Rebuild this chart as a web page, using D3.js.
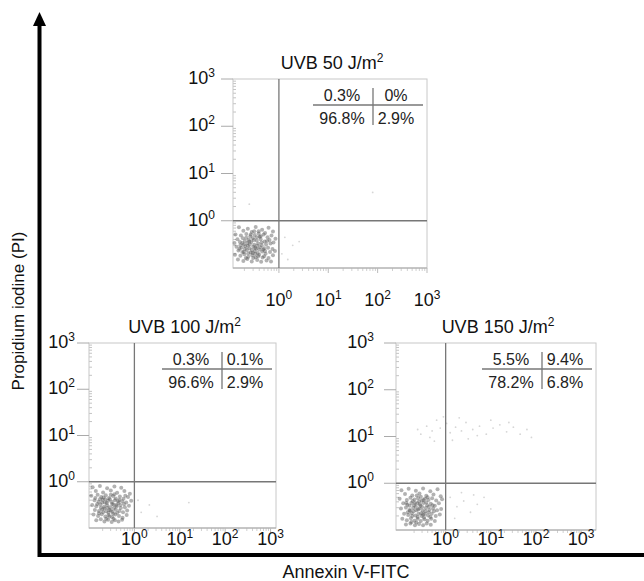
<!DOCTYPE html>
<html>
<head>
<meta charset="utf-8">
<script src="https://cdn.jsdelivr.net/npm/d3@7"></script>
<style>
  body { margin: 0; background: #fff; }
  svg { display: block; font-family: "Liberation Sans", Arial, Helvetica, sans-serif; }
</style>
</head>
<body>
<svg id="chart" width="644" height="581"></svg>
<script>
// doses and quadrant percentages (UL, UR, LL, LR)
const doses = ["50", "100", "150"]
const upperLeft = ["0.3%", "0.3%", "5.5%"]
const upperRight = ["0%", "0.1%", "9.4%"]
const lowerLeft = ["96.8%", "96.6%", "78.2%"]
const lowerRight = ["2.9%", "2.9%", "6.8%"]
const tickExps = [0, 1, 2, 3]
const yExtentExp = [-1, 3]

// events as [log10 Annexin, log10 PI]
const events50 = [
  [-0.81,-0.14],[-0.63,-0.17],[-0.47,-0.13],[-0.34,-0.19],[-0.21,-0.15],[-0.72,-0.21],[-0.55,-0.24],[-0.41,-0.22],[-0.28,-0.26],[-0.12,-0.23],
  [-0.88,-0.29],[-0.77,-0.31],[-0.66,-0.28],[-0.58,-0.33],[-0.49,-0.3],[-0.39,-0.34],[-0.31,-0.29],[-0.23,-0.35],[-0.15,-0.31],[-0.07,-0.38],
  [-0.84,-0.39],[-0.73,-0.37],[-0.69,-0.43],[-0.61,-0.4],[-0.53,-0.37],[-0.45,-0.42],[-0.37,-0.39],[-0.29,-0.44],[-0.19,-0.41],[-0.11,-0.46],
  [-0.9,-0.47],[-0.79,-0.45],[-0.71,-0.5],[-0.64,-0.47],[-0.56,-0.45],[-0.5,-0.51],[-0.42,-0.48],[-0.35,-0.46],[-0.26,-0.5],[-0.17,-0.48],
  [-0.86,-0.55],[-0.76,-0.57],[-0.68,-0.54],[-0.6,-0.58],[-0.52,-0.55],[-0.46,-0.59],[-0.38,-0.56],[-0.32,-0.61],[-0.22,-0.57],[-0.13,-0.6],
  [-0.82,-0.63],[-0.74,-0.66],[-0.65,-0.62],[-0.57,-0.67],[-0.49,-0.64],[-0.43,-0.68],[-0.34,-0.65],[-0.27,-0.7],[-0.18,-0.66],[-0.08,-0.64],
  [-0.89,-0.72],[-0.78,-0.74],[-0.7,-0.71],[-0.62,-0.76],[-0.54,-0.73],[-0.47,-0.77],[-0.4,-0.72],[-0.3,-0.75],[-0.21,-0.79],[-0.12,-0.73],
  [-0.83,-0.82],[-0.72,-0.85],[-0.64,-0.81],[-0.55,-0.86],[-0.44,-0.83],[-0.36,-0.87],[-0.25,-0.84],[-0.16,-0.86],
  [-0.66,-0.36],[-0.59,-0.5],[-0.51,-0.41],[-0.44,-0.53],[-0.55,-0.62],[-0.4,-0.61],[-0.62,-0.69],[-0.48,-0.7],[-0.69,-0.6],[-0.35,-0.52],
  [-0.57,-0.29],[-0.45,-0.35],[-0.74,-0.47],[-0.3,-0.58],[-0.52,-0.79],[-0.67,-0.79],[-0.8,-0.59],[-0.24,-0.43],[-0.41,-0.27],[-0.33,-0.78],
  [-0.6,-0.44],[-0.48,-0.57],[-0.71,-0.66],[-0.37,-0.33],[-0.53,-0.68],[-0.63,-0.53],[-0.42,-0.75],[-0.78,-0.52],[-0.28,-0.64],[-0.5,-0.22]
]
const events100 = [
  [-0.92,-0.12],[-0.76,-0.09],[-0.6,-0.14],[-0.44,-0.1],[-0.29,-0.13],[-0.85,-0.2],[-0.69,-0.23],[-0.52,-0.19],[-0.38,-0.24],[-0.22,-0.2],[-0.1,-0.26],
  [-0.95,-0.3],[-0.81,-0.28],[-0.73,-0.33],[-0.63,-0.29],[-0.56,-0.35],[-0.47,-0.31],[-0.41,-0.36],[-0.32,-0.32],[-0.24,-0.37],[-0.14,-0.33],
  [-0.88,-0.4],[-0.79,-0.43],[-0.7,-0.39],[-0.65,-0.45],[-0.58,-0.41],[-0.5,-0.44],[-0.43,-0.4],[-0.35,-0.46],[-0.27,-0.42],[-0.18,-0.45],[-0.07,-0.41],
  [-0.93,-0.5],[-0.84,-0.53],[-0.75,-0.49],[-0.67,-0.54],[-0.6,-0.51],[-0.53,-0.55],[-0.46,-0.49],[-0.39,-0.53],[-0.31,-0.5],[-0.21,-0.55],[-0.12,-0.52],
  [-0.87,-0.61],[-0.78,-0.63],[-0.71,-0.6],[-0.62,-0.64],[-0.55,-0.61],[-0.48,-0.65],[-0.41,-0.6],[-0.33,-0.63],[-0.25,-0.66],[-0.16,-0.62],
  [-0.9,-0.71],[-0.8,-0.74],[-0.72,-0.7],[-0.64,-0.75],[-0.57,-0.72],[-0.49,-0.76],[-0.42,-0.71],[-0.34,-0.74],[-0.26,-0.78],[-0.17,-0.72],
  [-0.84,-0.83],[-0.74,-0.81],[-0.66,-0.86],[-0.58,-0.82],[-0.5,-0.87],[-0.43,-0.83],[-0.35,-0.86],[-0.27,-0.82],
  [-0.68,-0.34],[-0.61,-0.46],[-0.54,-0.38],[-0.45,-0.57],[-0.57,-0.67],[-0.66,-0.58],[-0.49,-0.48],[-0.38,-0.67],[-0.74,-0.56],[-0.62,-0.8],
  [-0.44,-0.27],[-0.3,-0.57],[-0.76,-0.38],[-0.52,-0.28],[-0.36,-0.42],[-0.69,-0.66],[-0.55,-0.75],[-0.82,-0.48],[-0.23,-0.48],[-0.47,-0.69],
  [-0.59,-0.57],[-0.71,-0.45],[-0.4,-0.5],[-0.64,-0.38],[-0.52,-0.62],[-0.78,-0.68],[-0.33,-0.39],[-0.46,-0.8],[-0.86,-0.35],[-0.2,-0.3]
]
const events150 = [
  [-0.98,-0.15],[-0.82,-0.12],[-0.66,-0.16],[-0.5,-0.11],[-0.34,-0.17],[-0.18,-0.13],[-0.9,-0.23],[-0.74,-0.26],[-0.58,-0.22],[-0.43,-0.27],[-0.27,-0.24],[-0.11,-0.28],
  [-1.02,-0.33],[-0.86,-0.36],[-0.78,-0.31],[-0.69,-0.35],[-0.61,-0.32],[-0.53,-0.37],[-0.46,-0.33],[-0.38,-0.36],[-0.3,-0.32],[-0.21,-0.37],[-0.08,-0.34],
  [-0.94,-0.43],[-0.85,-0.46],[-0.76,-0.42],[-0.7,-0.47],[-0.63,-0.43],[-0.56,-0.48],[-0.49,-0.42],[-0.41,-0.47],[-0.33,-0.44],[-0.24,-0.48],[-0.15,-0.43],
  [-0.99,-0.54],[-0.88,-0.52],[-0.8,-0.57],[-0.72,-0.53],[-0.65,-0.58],[-0.58,-0.54],[-0.51,-0.59],[-0.44,-0.53],[-0.36,-0.57],[-0.28,-0.54],[-0.19,-0.58],[-0.1,-0.55],
  [-0.92,-0.65],[-0.83,-0.68],[-0.75,-0.64],[-0.67,-0.69],[-0.6,-0.65],[-0.53,-0.7],[-0.46,-0.66],[-0.39,-0.69],[-0.31,-0.65],[-0.22,-0.7],[-0.13,-0.67],
  [-0.96,-0.76],[-0.86,-0.79],[-0.77,-0.75],[-0.69,-0.8],[-0.62,-0.76],[-0.55,-0.81],[-0.47,-0.77],[-0.4,-0.8],[-0.32,-0.76],[-0.24,-0.81],
  [-0.88,-0.88],[-0.78,-0.86],[-0.68,-0.9],[-0.59,-0.87],[-0.5,-0.9],[-0.42,-0.86],[-0.33,-0.89],
  [-0.73,-0.38],[-0.66,-0.5],[-0.59,-0.39],[-0.52,-0.51],[-0.45,-0.6],[-0.62,-0.72],[-0.71,-0.6],[-0.8,-0.48],[-0.54,-0.64],[-0.37,-0.5],
  [-0.48,-0.73],[-0.84,-0.62],[-0.64,-0.26],[-0.4,-0.3],[-0.26,-0.6],[-0.76,-0.83],[-0.57,-0.45],[-0.68,-0.42],[-0.49,-0.36],[-0.34,-0.72],
  [-0.61,-0.56],[-0.74,-0.7],[-0.43,-0.41],[-0.55,-0.29],[-0.87,-0.42],[-0.29,-0.47],[-0.65,-0.84],[-0.5,-0.67],[-0.79,-0.59],[-0.38,-0.62]
]
// sparse events outside the main population
const sparse50 = [[0.12,-0.35],[0.28,-0.52],[0.06,-0.7],[0.41,-0.44],[0.18,-0.82],[-0.6,0.35],[1.9,0.6]]
const sparse100 = [[0.08,-0.4],[0.15,-0.66],[0.33,-0.5],[0.5,-0.75],[1.2,-0.45]]
const sparse150 = [
  [-0.55,1.05],[-0.42,1.22],[-0.3,1.12],[-0.2,1.35],[-0.12,1.18],[-0.05,1.42],[0.02,1.28],[-0.35,0.98],[-0.62,1.15],[0.1,1.08],
  [0.22,1.2],[0.35,1.12],[0.45,1.3],[0.6,1.15],[0.75,1.22],[0.9,1.05],[1.05,1.18],[1.2,1.25],[1.35,1.1],[1.5,1.2],
  [1.65,1.05],[1.8,1.15],[0.5,0.95],[0.3,1.4],[1.0,1.35],[-0.25,0.9],[0.7,1.02],[1.4,1.3],[1.9,0.98],[0.15,0.92],
  [0.1,-0.3],[0.25,-0.5],[0.4,-0.38],[0.55,-0.62],[0.7,-0.45],[0.85,-0.3],[0.2,-0.75],[1.0,-0.55],[0.35,-0.2],[0.62,-0.25]
]
const events = [events50, events100, events150]
const sparse = [sparse50, sparse100, sparse150]

// panel frames on the page
const panels = [
  {left: 233, top: 79, width: 194, height: 189, xExp: [-0.93, 3], xLabelDy: 38, yLabelGap: 18},
  {left: 89, top: 343, width: 187, height: 185, xExp: [-1, 3.12], xLabelDy: 17, yLabelGap: 14},
  {left: 396, top: 343, width: 200, height: 187, xExp: [-1.1, 3.33], xLabelDy: 15, yLabelGap: 22}
]

const svg = d3.select("#chart")
const pow = e => Math.pow(10, e)

function supText(sel, base, sup, dy, supSize) {
  sel.append("tspan").text(base)
  sel.append("tspan").attr("dy", dy).attr("font-size", supSize).text(sup)
}

panels.forEach((p, i) => {
  const x = d3.scaleLog().domain(p.xExp.map(pow)).range([p.left, p.left + p.width])
  const y = d3.scaleLog().domain(yExtentExp.map(pow)).range([p.top + p.height, p.top])
  const g = svg.append("g")
  const bottom = p.top + p.height
  const right = p.left + p.width

  // minor ticks
  const minor = d3.range(-1, 3).flatMap(k => d3.range(2, 10).map(m => m * pow(k)))
  g.append("g").selectAll("line").data(minor.filter(v => y(v) > p.top)).join("line")
    .attr("x1", p.left).attr("x2", p.left + 3)
    .attr("y1", d => y(d)).attr("y2", d => y(d))
    .attr("stroke", "#c4c4c4").attr("stroke-width", 1)
  g.append("g").selectAll("line").data(minor.filter(v => x(v) > p.left && x(v) < right)).join("line")
    .attr("x1", d => x(d)).attr("x2", d => x(d))
    .attr("y1", bottom).attr("y2", bottom + 3)
    .attr("stroke", "#d0d0d0").attr("stroke-width", 1)

  // frame
  g.append("rect")
    .attr("x", p.left).attr("y", p.top).attr("width", p.width).attr("height", p.height)
    .attr("fill", "none").attr("stroke", "#c8c8c8").attr("stroke-width", 1)
  g.append("line")
    .attr("x1", p.left).attr("x2", right).attr("y1", bottom).attr("y2", bottom)
    .attr("stroke", "#a8a8a8").attr("stroke-width", 1.2)

  // major y ticks + labels
  tickExps.forEach(e => {
    const yy = y(pow(e))
    g.append("line")
      .attr("x1", p.left - 12).attr("x2", p.left).attr("y1", yy).attr("y2", yy)
      .attr("stroke", "#aaa").attr("stroke-width", 1)
    const t = g.append("text")
      .attr("x", p.left - p.yLabelGap).attr("y", yy + 5)
      .attr("text-anchor", "end").attr("font-size", 18).attr("fill", "#111")
    supText(t, "10", e, -7, 12)
  })

  // major x tick labels
  tickExps.forEach(e => {
    const xx = x(pow(e))
    g.append("line")
      .attr("x1", xx).attr("x2", xx).attr("y1", bottom).attr("y2", bottom + 5)
      .attr("stroke", "#bbb").attr("stroke-width", 1)
    const t = g.append("text")
      .attr("x", xx).attr("y", bottom + p.xLabelDy)
      .attr("text-anchor", "middle").attr("font-size", 18).attr("fill", "#111")
    supText(t, "10", e, -7, 12)
  })

  // events
  g.append("g").selectAll("circle").data(events[i]).join("circle")
    .attr("cx", d => x(pow(d[0]))).attr("cy", d => y(pow(d[1])))
    .attr("r", 2).attr("fill", "#555").attr("fill-opacity", 0.45)
  g.append("g").selectAll("circle").data(sparse[i]).join("circle")
    .attr("cx", d => x(pow(d[0]))).attr("cy", d => y(pow(d[1])))
    .attr("r", 0.9).attr("fill", "#999").attr("fill-opacity", 0.4)

  // quadrant gates at 10^0
  g.append("line")
    .attr("x1", x(1)).attr("x2", x(1)).attr("y1", p.top).attr("y2", bottom)
    .attr("stroke", "#777").attr("stroke-width", 1.3)
  g.append("line")
    .attr("x1", p.left).attr("x2", right).attr("y1", y(1)).attr("y2", y(1))
    .attr("stroke", "#777").attr("stroke-width", 1.3)

  // title
  const title = g.append("text")
    .attr("x", p.left + p.width / 2 + 2).attr("y", p.top - 10)
    .attr("text-anchor", "middle").attr("font-size", 18).attr("fill", "#111")
  supText(title, `UVB ${doses[i]} J/m`, "2", -7, 12)

  // quadrant statistics
  const vx = right - 54
  g.append("line")
    .attr("x1", vx - 60).attr("x2", right - 4).attr("y1", p.top + 26).attr("y2", p.top + 26)
    .attr("stroke", "#777").attr("stroke-width", 1.3)
  g.append("line")
    .attr("x1", vx).attr("x2", vx).attr("y1", p.top + 9).attr("y2", p.top + 46)
    .attr("stroke", "#777").attr("stroke-width", 1.3)
  const cells = [
    [upperLeft[i], vx - 31, p.top + 22], [upperRight[i], vx + 23, p.top + 22],
    [lowerLeft[i], vx - 31, p.top + 45], [lowerRight[i], vx + 23, p.top + 45]
  ]
  g.selectAll("text.stat").data(cells).join("text")
    .attr("class", "stat")
    .attr("x", d => d[1]).attr("y", d => d[2])
    .attr("text-anchor", "middle").attr("font-size", 16).attr("fill", "#222")
    .text(d => d[0])
})

// outer axes
svg.append("line")
  .attr("x1", 39.5).attr("x2", 39.5).attr("y1", 557).attr("y2", 22)
  .attr("stroke", "#000").attr("stroke-width", 4)
svg.append("path")
  .attr("d", "M39.5,12 L33,26 L46,26 Z").attr("fill", "#000")
svg.append("line")
  .attr("x1", 38).attr("x2", 644).attr("y1", 555).attr("y2", 555)
  .attr("stroke", "#000").attr("stroke-width", 4)

svg.append("text")
  .attr("x", 346).attr("y", 578)
  .attr("text-anchor", "middle").attr("font-size", 18).attr("fill", "#111")
  .text("Annexin V-FITC")
svg.append("text")
  .attr("transform", "translate(24,311) rotate(-90)")
  .attr("text-anchor", "middle").attr("font-size", 17).attr("fill", "#111")
  .text("Propidium iodine (PI)")
</script>
</body>
</html>
